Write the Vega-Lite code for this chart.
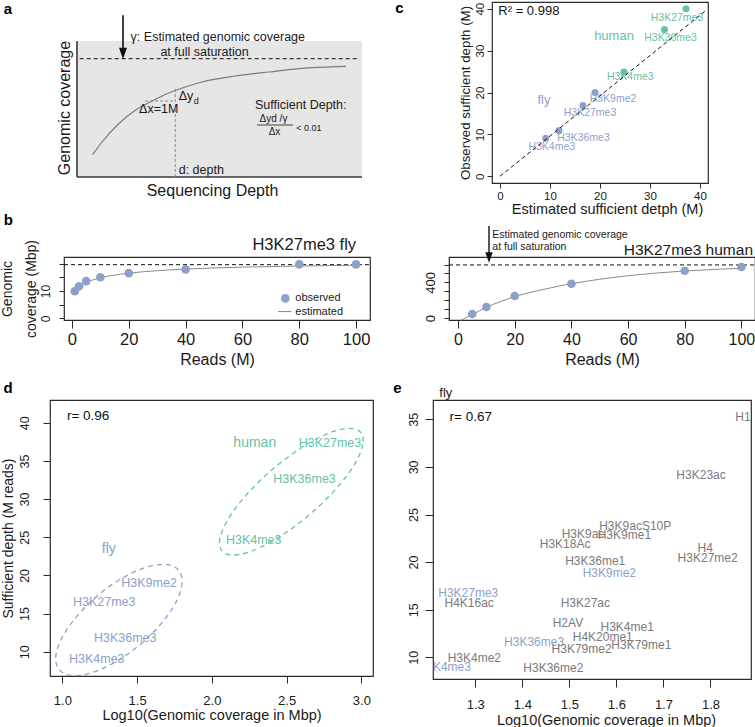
{
"$schema": "https://vega.github.io/schema/vega-lite/v6.json",
"padding": {"left": -1, "top": 0, "right": 0, "bottom": 0},
"background": "white",
"spacing": -5,
"config": {
  "font": "Liberation Sans",
  "view": {"stroke": "#2b2b2b", "strokeWidth": 1.2},
  "axis": {"grid": false, "domain": false, "tickColor": "#2b2b2b", "tickWidth": 1, "labelColor": "#1a1a1a", "titleColor": "#1a1a1a", "titleFontWeight": "normal", "labelFlush": false, "labelOverlap": false, "labelFont": "Liberation Sans", "titleFont": "Liberation Sans"},
  "title": {"font": "Liberation Sans", "fontWeight": "normal", "color": "#1a1a1a"},
  "text": {"font": "Liberation Sans"}
},
"vconcat": [
 {
  "hconcat": [
   {"width": 73, "height": 1, "view": {"stroke": null}, "data": {"values": []}, "mark": {"type": "point"}, "encoding": {}},
   {
    "hconcat": [
     {
      "width": 285, "height": 175,
      "view": {"stroke": null},
      "encoding": {
        "x": {"field": "x", "type": "quantitative", "scale": {"domain": [0, 10], "nice": false, "zero": false}, "axis": {"title": "Sequencing Depth", "labels": false, "ticks": false, "domain": false, "titleFontSize": 16, "titlePadding": 5, "titleX": 135}},
        "y": {"field": "y", "type": "quantitative", "scale": {"domain": [0, 12.5], "nice": false, "zero": false}, "axis": {"title": "Genomic coverage", "labels": false, "ticks": false, "domain": false, "titleFontSize": 16, "titlePadding": 5, "titleY": 105.5}}
      },
      "layer": [
        {"data": {"values": [{"x": 0, "x2": 10, "y": 0, "y2": 9.714}]}, "mark": {"type": "rect", "color": "#e6e6e6"}, "encoding": {"x2": {"field": "x2"}, "y2": {"field": "y2"}}},
        {"data": {"values": [{"x": 0, "x2": 0, "y": 0, "y2": 9.714}, {"x": 0, "x2": 10, "y": 0, "y2": 0}]}, "mark": {"type": "rule", "color": "#3a3a3a", "strokeWidth": 1.6}, "encoding": {"x2": {"field": "x2"}, "y2": {"field": "y2"}}},
        {"data": {"values": [{"x": 0.095, "x2": 9.82, "y": 8.45, "y2": 8.45}]}, "mark": {"type": "rule", "color": "#111111", "strokeWidth": 1, "strokeDash": [4, 3]}, "encoding": {"x2": {"field": "x2"}, "y2": {"field": "y2"}}},
        {"data": {"values": [{"x": 2.386, "x2": 3.449, "y": 5.43, "y2": 5.43}, {"x": 3.449, "x2": 3.449, "y": 0, "y2": 6.3}]}, "mark": {"type": "rule", "color": "#8a8a8a", "strokeWidth": 1, "strokeDash": [3, 2]}, "encoding": {"x2": {"field": "x2"}, "y2": {"field": "y2"}}},
        {"data": {"values": [{"x": 0.551, "y": 1.593}, {"x": 0.877, "y": 2.5}, {"x": 1.463, "y": 3.807}, {"x": 2.046, "y": 4.764}, {"x": 2.632, "y": 5.429}, {"x": 3.218, "y": 6.0}, {"x": 3.8, "y": 6.429}, {"x": 4.386, "y": 6.786}, {"x": 5.554, "y": 7.214}, {"x": 6.726, "y": 7.5}, {"x": 8.246, "y": 7.807}, {"x": 9.439, "y": 7.907}]}, "mark": {"type": "line", "color": "#7a7a7a", "strokeWidth": 1.2, "interpolate": "monotone"}},
        {"data": {"values": [{"x": 1.614, "x2": 1.614, "y": 11.55, "y2": 8.9}]}, "mark": {"type": "rule", "color": "#111111", "strokeWidth": 1.6}, "encoding": {"x2": {"field": "x2"}, "y2": {"field": "y2"}}},
        {"data": {"values": [{"x": 1.614, "y": 8.83}]}, "mark": {"type": "point", "shape": "M-1,-1.4L1,-1.4L0,1.4Z", "filled": true, "size": 64, "color": "#111111", "opacity": 1}},
        {"data": {"values": [{"x": 4.94, "y": 10.0, "label": "γ: Estimated genomic coverage"}, {"x": 4.474, "y": 8.93, "label": "at full saturation"}, {"x": 2.867, "y": 4.88, "label": "Δx=1M"}]}, "mark": {"type": "text", "fontSize": 12.5, "color": "#1a1a1a"}, "encoding": {"text": {"field": "label"}}},
        {"data": {"values": [{"x": 3.568, "y": 5.79, "label": "Δy"}, {"x": 3.568, "y": 0.5, "label": "d: depth"}, {"x": 6.246, "y": 5.14, "label": "Sufficient Depth:"}]}, "mark": {"type": "text", "fontSize": 12.5, "align": "left", "color": "#1a1a1a"}, "encoding": {"text": {"field": "label"}}},
        {"data": {"values": [{"x": 4.095, "y": 5.43, "label": "d"}]}, "mark": {"type": "text", "fontSize": 9, "align": "left", "color": "#1a1a1a"}, "encoding": {"text": {"field": "label"}}},
        {"data": {"values": [{"x": 6.895, "y": 4.143, "label": "Δyd /γ"}, {"x": 6.93, "y": 3.214, "label": "Δx"}]}, "mark": {"type": "text", "fontSize": 10, "color": "#1a1a1a"}, "encoding": {"text": {"field": "label"}}},
        {"data": {"values": [{"x": 6.316, "x2": 7.579, "y": 3.714, "y2": 3.714}]}, "mark": {"type": "rule", "color": "#1a1a1a", "strokeWidth": 0.8}, "encoding": {"x2": {"field": "x2"}, "y2": {"field": "y2"}}},
        {"data": {"values": [{"x": 7.695, "y": 3.5, "label": "< 0.01"}]}, "mark": {"type": "text", "fontSize": 9, "align": "left", "color": "#1a1a1a"}, "encoding": {"text": {"field": "label"}}},
        {"data": {"values": [{"x": -2.572, "y": 11.66, "label": "a"}]}, "mark": {"type": "text", "fontSize": 15, "fontWeight": "bold", "align": "left", "baseline": "alphabetic", "color": "#000000"}, "encoding": {"text": {"field": "label"}}}
      ]
     },
     {
      "width": 216, "height": 181,
      "encoding": {
        "x": {"field": "x", "type": "quantitative", "scale": {"domain": [-1.6, 41.6], "nice": false, "zero": false}, "axis": {"title": "Estimated sufficient detph (M)", "values": [0, 10, 20, 30, 40], "labelFontSize": 11.5, "titleFontSize": 14.5, "tickSize": 5, "labelPadding": 2, "titlePadding": 1, "titleX": 115}},
        "y": {"field": "y", "type": "quantitative", "scale": {"domain": [-1.6, 41.6], "nice": false, "zero": false}, "axis": {"title": "Observed sufficient depth (M)", "values": [0, 10, 20, 30, 40], "labelFontSize": 11.5, "labelAngle": -90, "labelAlign": "center", "labelBaseline": "bottom", "tickSize": 5, "labelPadding": 1.5, "titleFontSize": 13.3, "titlePadding": 2}}
      },
      "layer": [
        {"data": {"values": [
          {"mark": "H3K27me3", "group": "human", "x": 37.2, "y": 40.0},
          {"mark": "H3K36me3", "group": "human", "x": 32.9, "y": 35.0},
          {"mark": "H3K4me3", "group": "human", "x": 24.8, "y": 24.9},
          {"mark": "H3K9me2", "group": "fly", "x": 19.0, "y": 20.0},
          {"mark": "H3K27me3", "group": "fly", "x": 16.6, "y": 16.9},
          {"mark": "H3K36me3", "group": "fly", "x": 11.8, "y": 10.9},
          {"mark": "H3K4me3", "group": "fly", "x": 9.15, "y": 9.1}]},
         "mark": {"type": "circle", "size": 50, "opacity": 1},
         "encoding": {"color": {"field": "group", "type": "nominal", "scale": {"domain": ["human", "fly", "other"], "range": ["#66c2a5", "#8da0cb", "#7a7a7a"]}, "legend": null}}},
        {"data": {"values": [
          {"label": "H3K27me3", "group": "human", "x": 35.4, "y": 37.8},
          {"label": "H3K36me3", "group": "human", "x": 34.1, "y": 33.0},
          {"label": "H3K4me3", "group": "human", "x": 26.05, "y": 23.6},
          {"label": "H3K9me2", "group": "fly", "x": 22.6, "y": 18.4},
          {"label": "H3K27me3", "group": "fly", "x": 18.0, "y": 15.2},
          {"label": "H3K36me3", "group": "fly", "x": 16.7, "y": 9.25},
          {"label": "H3K4me3", "group": "fly", "x": 10.35, "y": 6.9}]},
         "mark": {"type": "text", "fontSize": 10.5},
         "encoding": {"text": {"field": "label"}, "color": {"field": "group", "type": "nominal", "scale": {"domain": ["human", "fly", "other"], "range": ["#66c2a5", "#8da0cb", "#7a7a7a"]}, "legend": null}}},
        {"data": {"values": [{"label": "human", "group": "human", "x": 22.8, "y": 33.5}, {"label": "fly", "group": "fly", "x": 8.8, "y": 18.1}]},
         "mark": {"type": "text", "fontSize": 13},
         "encoding": {"text": {"field": "label"}, "color": {"field": "group", "type": "nominal", "scale": {"domain": ["human", "fly", "other"], "range": ["#66c2a5", "#8da0cb", "#7a7a7a"]}, "legend": null}}},
        {"data": {"values": [{"x": 0, "y": 0}, {"x": 41.2, "y": 39.6}]}, "mark": {"type": "line", "color": "#111111", "strokeWidth": 1, "strokeDash": [4, 3]}},
        {"data": {"values": [{"x": -0.34, "y": 39.5, "label": "R² = 0.998"}]}, "mark": {"type": "text", "fontSize": 13, "align": "left", "color": "#111111"}, "encoding": {"text": {"field": "label"}}},
        {"data": {"values": [{"x": -20.94, "y": 38.96, "label": "c"}]}, "mark": {"type": "text", "fontSize": 15, "fontWeight": "bold", "align": "left", "baseline": "alphabetic", "color": "#000000"}, "encoding": {"text": {"field": "label"}}}
      ]
     }
    ],
    "spacing": 130,
    "bounds": "flush"
   }
  ],
  "spacing": 0,
  "bounds": "flush"
 },
 {
  "vconcat": [
   {
    "hconcat": [
     {"width": 60, "height": 1, "view": {"stroke": null}, "data": {"values": []}, "mark": {"type": "point"}, "encoding": {}},
     {
      "hconcat": [
       {
        "width": 306, "height": 63,
        "encoding": {
          "x": {"field": "x", "type": "quantitative", "scale": {"domain": [-2.8, 104.9], "nice": false, "zero": false}, "axis": {"title": "Reads (M)", "values": [0, 20, 40, 60, 80, 100], "labelFontSize": 16.5, "titleFontSize": 16, "tickSize": 8, "labelPadding": 3, "titlePadding": 4}},
          "y": {"field": "y", "type": "quantitative", "scale": {"domain": [-0.6, 22.4], "nice": false, "zero": false}, "axis": {"title": ["Genomic", "coverage (Mbp)"], "values": [0, 5, 10, 15, 20], "labelExpr": "datum.value == 0 || datum.value == 10 ? datum.label : ''", "labelAngle": -90, "labelAlign": "center", "labelBaseline": "bottom", "labelFontSize": 12, "tickSize": 5, "labelPadding": 7, "titleFontSize": 14, "titleLineHeight": 24, "titlePadding": 1}}
        },
        "layer": [
          {"data": {"values": [{"x": -2.8, "x2": 104.9, "y": 19.6, "y2": 19.6}]}, "mark": {"type": "rule", "color": "#111111", "strokeWidth": 1, "strokeDash": [4, 3]}, "encoding": {"x2": {"field": "x2"}, "y2": {"field": "y2"}}},
          {"data": {"values": [{"x": 1, "y": 10.3}, {"x": 2, "y": 11.2}, {"x": 3, "y": 11.9}, {"x": 5, "y": 13.1}, {"x": 7, "y": 13.9}, {"x": 10, "y": 14.8}, {"x": 15, "y": 15.8}, {"x": 20, "y": 16.5}, {"x": 30, "y": 17.4}, {"x": 40, "y": 18.0}, {"x": 50, "y": 18.4}, {"x": 60, "y": 18.7}, {"x": 80, "y": 19.1}, {"x": 100, "y": 19.4}]}, "mark": {"type": "line", "color": "#8a8a8a", "strokeWidth": 1, "interpolate": "monotone"}},
          {"data": {"values": [{"x": 1, "y": 9.9}, {"x": 2.5, "y": 11.7}, {"x": 5, "y": 13.6}, {"x": 10, "y": 15.0}, {"x": 20, "y": 16.5}, {"x": 40, "y": 17.9}, {"x": 80, "y": 19.7}, {"x": 100, "y": 19.7}]}, "mark": {"type": "circle", "size": 75, "opacity": 1, "color": "#8da0cb"}},
          {"data": {"values": [{"x": 75.09, "y": 7.29}]}, "mark": {"type": "circle", "size": 75, "opacity": 1, "color": "#8da0cb"}},
          {"data": {"values": [{"x": 72.52, "x2": 77.21, "y": 2.49, "y2": 2.49}]}, "mark": {"type": "rule", "color": "#8a8a8a", "strokeWidth": 1}, "encoding": {"x2": {"field": "x2"}, "y2": {"field": "y2"}}},
          {"data": {"values": [{"x": 78.61, "y": 7.51, "label": "observed"}, {"x": 78.61, "y": 2.49, "label": "estimated"}]}, "mark": {"type": "text", "fontSize": 11, "align": "left", "color": "#1a1a1a"}, "encoding": {"text": {"field": "label"}}},
          {"data": {"values": [{"x": 100, "y": 24.85, "label": "H3K27me3 fly"}]}, "mark": {"type": "text", "fontSize": 16.5, "align": "right", "baseline": "alphabetic", "color": "#1a1a1a"}, "encoding": {"text": {"field": "label"}}},
          {"data": {"values": [{"x": -24.02, "y": 33.95, "label": "b"}]}, "mark": {"type": "text", "fontSize": 15, "fontWeight": "bold", "align": "left", "baseline": "alphabetic", "color": "#000000"}, "encoding": {"text": {"field": "label"}}}
        ]
       },
       {
        "width": 306, "height": 63,
        "encoding": {
          "x": {"field": "x", "type": "quantitative", "scale": {"domain": [-3.2, 104.8], "nice": false, "zero": false}, "axis": {"title": "Reads (M)", "values": [0, 20, 40, 60, 80, 100], "labelFontSize": 16, "titleFontSize": 16, "tickSize": 8, "labelPadding": 3, "titlePadding": 4}},
          "y": {"field": "y", "type": "quantitative", "scale": {"domain": [-22, 685], "nice": false, "zero": false}, "axis": {"title": null, "values": [0, 100, 200, 300, 400, 500, 600], "labelExpr": "datum.value == 0 || datum.value == 400 ? datum.label : ''", "labelAngle": -90, "labelAlign": "center", "labelBaseline": "bottom", "labelFontSize": 13, "tickSize": 5, "labelPadding": 7}}
        },
        "layer": [
          {"data": {"values": [{"x": -3.2, "x2": 104.8, "y": 596, "y2": 596}]}, "mark": {"type": "rule", "color": "#111111", "strokeWidth": 1, "strokeDash": [4, 3]}, "encoding": {"x2": {"field": "x2"}, "y2": {"field": "y2"}}},
          {"data": {"values": [{"x": 1, "y": -25}, {"x": 5, "y": 40}, {"x": 10, "y": 120}, {"x": 15, "y": 185}, {"x": 20, "y": 240}, {"x": 30, "y": 320}, {"x": 40, "y": 385}, {"x": 50, "y": 435}, {"x": 60, "y": 475}, {"x": 70, "y": 505}, {"x": 80, "y": 528}, {"x": 90, "y": 545}, {"x": 100, "y": 558}]}, "mark": {"type": "line", "color": "#8a8a8a", "strokeWidth": 1, "interpolate": "monotone"}},
          {"data": {"values": [{"x": 5, "y": 45}, {"x": 10, "y": 124}, {"x": 20, "y": 247}, {"x": 40, "y": 385}, {"x": 80, "y": 531}, {"x": 100, "y": 573}]}, "mark": {"type": "circle", "size": 75, "opacity": 1, "color": "#8da0cb"}},
          {"data": {"values": [{"x": 10.92, "x2": 10.92, "y": 1033, "y2": 665}]}, "mark": {"type": "rule", "color": "#111111", "strokeWidth": 1.4}, "encoding": {"x2": {"field": "x2"}, "y2": {"field": "y2"}}},
          {"data": {"values": [{"x": 10.92, "y": 680.6}]}, "mark": {"type": "point", "shape": "M-1,-1.4L1,-1.4L0,1.4Z", "filled": true, "size": 56, "color": "#111111", "opacity": 1}},
          {"data": {"values": [{"x": 12.08, "y": 932, "label": "Estimated genomic coverage"}, {"x": 12.08, "y": 797, "label": "at full saturation"}]}, "mark": {"type": "text", "fontSize": 10.5, "align": "left", "color": "#1a1a1a"}, "encoding": {"text": {"field": "label"}}},
          {"data": {"values": [{"x": 104.1, "y": 702, "label": "H3K27me3 human"}]}, "mark": {"type": "text", "fontSize": 15.5, "align": "right", "baseline": "alphabetic", "color": "#1a1a1a"}, "encoding": {"text": {"field": "label"}}}
        ]
       }
      ],
      "spacing": 79,
      "bounds": "flush"
     }
    ],
    "spacing": 0,
    "bounds": "flush"
   },
   {
    "hconcat": [
     {"width": 46, "height": 1, "view": {"stroke": null}, "data": {"values": []}, "mark": {"type": "point"}, "encoding": {}},
     {
      "hconcat": [
       {
        "width": 323, "height": 276,
        "encoding": {
          "x": {"field": "x", "type": "quantitative", "scale": {"domain": [0.917, 3.078], "nice": false, "zero": false}, "axis": {"title": "Log10(Genomic coverage in Mbp)", "values": [1, 1.5, 2, 2.5, 3], "format": ".1f", "labelFontSize": 13, "titleFontSize": 14.5, "tickSize": 7, "labelPadding": 11, "titlePadding": 1}},
          "y": {"field": "y", "type": "quantitative", "scale": {"domain": [6.815, 42.99], "nice": false, "zero": false}, "axis": {"title": "Sufficient depth (M reads)", "values": [10, 15, 20, 25, 30, 35, 40], "labelAngle": -90, "labelAlign": "center", "labelBaseline": "bottom", "labelFontSize": 12.5, "tickSize": 7, "labelPadding": 12, "titleFontSize": 14, "titlePadding": 3}}
        },
        "layer": [
          {"data": {"values": [
            {"group": "human", "i": 0, "x": 2.998, "y": 38.70}, {"group": "human", "i": 1, "x": 3.010, "y": 37.18}, {"group": "human", "i": 2, "x": 2.965, "y": 34.92}, {"group": "human", "i": 3, "x": 2.867, "y": 32.17}, {"group": "human", "i": 4, "x": 2.729, "y": 29.30}, {"group": "human", "i": 5, "x": 2.567, "y": 26.61}, {"group": "human", "i": 6, "x": 2.401, "y": 24.46}, {"group": "human", "i": 7, "x": 2.251, "y": 23.08}, {"group": "human", "i": 8, "x": 2.134, "y": 22.67}, {"group": "human", "i": 9, "x": 2.066, "y": 23.25}, {"group": "human", "i": 10, "x": 2.053, "y": 24.76}, {"group": "human", "i": 11, "x": 2.099, "y": 27.03}, {"group": "human", "i": 12, "x": 2.196, "y": 29.76}, {"group": "human", "i": 13, "x": 2.334, "y": 32.65}, {"group": "human", "i": 14, "x": 2.497, "y": 35.33}, {"group": "human", "i": 15, "x": 2.663, "y": 37.49}, {"group": "human", "i": 16, "x": 2.813, "y": 38.87}, {"group": "human", "i": 17, "x": 2.929, "y": 39.28},
            {"group": "fly", "i": 0, "x": 1.780, "y": 20.62}, {"group": "fly", "i": 1, "x": 1.801, "y": 19.07}, {"group": "fly", "i": 2, "x": 1.771, "y": 16.93}, {"group": "fly", "i": 3, "x": 1.693, "y": 14.46}, {"group": "fly", "i": 4, "x": 1.577, "y": 11.95}, {"group": "fly", "i": 5, "x": 1.438, "y": 9.70}, {"group": "fly", "i": 6, "x": 1.291, "y": 8.00}, {"group": "fly", "i": 7, "x": 1.155, "y": 7.03}, {"group": "fly", "i": 8, "x": 1.045, "y": 6.93}, {"group": "fly", "i": 9, "x": 0.976, "y": 7.70}, {"group": "fly", "i": 10, "x": 0.955, "y": 9.23}, {"group": "fly", "i": 11, "x": 0.986, "y": 11.38}, {"group": "fly", "i": 12, "x": 1.064, "y": 13.85}, {"group": "fly", "i": 13, "x": 1.179, "y": 16.36}, {"group": "fly", "i": 14, "x": 1.319, "y": 18.62}, {"group": "fly", "i": 15, "x": 1.466, "y": 20.32}, {"group": "fly", "i": 16, "x": 1.602, "y": 21.28}, {"group": "fly", "i": 17, "x": 1.712, "y": 21.39}]},
           "mark": {"type": "line", "interpolate": "cardinal-closed", "strokeWidth": 1.3, "strokeDash": [5, 4]},
           "encoding": {"order": {"field": "i", "type": "quantitative"}, "color": {"field": "group", "type": "nominal", "scale": {"domain": ["human", "fly", "other"], "range": ["#66c2a5", "#8da0cb", "#7a7a7a"]}, "legend": null}}},
          {"data": {"values": [
            {"label": "H3K27me3", "group": "human", "x": 2.79, "y": 37.3},
            {"label": "H3K36me3", "group": "human", "x": 2.62, "y": 32.7},
            {"label": "H3K4me3", "group": "human", "x": 2.28, "y": 24.7},
            {"label": "H3K9me2", "group": "fly", "x": 1.58, "y": 19.0},
            {"label": "H3K27me3", "group": "fly", "x": 1.28, "y": 16.55},
            {"label": "H3K36me3", "group": "fly", "x": 1.42, "y": 11.75},
            {"label": "H3K4me3", "group": "fly", "x": 1.23, "y": 9.0}]},
           "mark": {"type": "text", "fontSize": 12.5},
           "encoding": {"text": {"field": "label"}, "color": {"field": "group", "type": "nominal", "scale": {"domain": ["human", "fly", "other"], "range": ["#66c2a5", "#8da0cb", "#7a7a7a"]}, "legend": null}}},
          {"data": {"values": [{"label": "human", "group": "human", "x": 2.287, "y": 37.3}, {"label": "fly", "group": "fly", "x": 1.31, "y": 23.5}]},
           "mark": {"type": "text", "fontSize": 14},
           "encoding": {"text": {"field": "label"}, "color": {"field": "group", "type": "nominal", "scale": {"domain": ["human", "fly", "other"], "range": ["#66c2a5", "#8da0cb", "#7a7a7a"]}, "legend": null}}},
          {"data": {"values": [{"x": 1.03, "y": 40.9, "label": "r= 0.96"}]}, "mark": {"type": "text", "fontSize": 13.5, "align": "left", "color": "#111111"}, "encoding": {"text": {"field": "label"}}},
          {"data": {"values": [{"x": 0.606, "y": 43.9, "label": "d"}]}, "mark": {"type": "text", "fontSize": 15, "fontWeight": "bold", "align": "left", "baseline": "alphabetic", "color": "#000000"}, "encoding": {"text": {"field": "label"}}}
        ]
       },
       {
        "width": 318, "height": 279,
        "encoding": {
          "x": {"field": "x", "type": "quantitative", "scale": {"domain": [1.2101, 1.8862], "nice": false, "zero": false}, "axis": {"title": "Log10(Genomic coverage in Mbp)", "values": [1.3, 1.4, 1.5, 1.6, 1.7, 1.8], "format": ".1f", "labelFontSize": 13, "titleFontSize": 14.5, "tickSize": 8, "labelPadding": 11, "titlePadding": 2, "titleX": 173}},
          "y": {"field": "y", "type": "quantitative", "scale": {"domain": [7.72, 37.03], "nice": false, "zero": false}, "axis": {"title": null, "values": [10, 15, 20, 25, 30, 35], "labelAngle": -90, "labelAlign": "center", "labelBaseline": "bottom", "labelFontSize": 12.5, "tickSize": 8, "labelPadding": 5}}
        },
        "layer": [
          {"data": {"values": [
            {"label": "H1", "group": "other", "x": 1.869, "y": 35.2},
            {"label": "H3K23ac", "group": "other", "x": 1.780, "y": 29.15},
            {"label": "H3K9acS10P", "group": "other", "x": 1.640, "y": 23.79},
            {"label": "H3K9ac", "group": "other", "x": 1.529, "y": 22.95},
            {"label": "H3K9me1", "group": "other", "x": 1.617, "y": 22.85},
            {"label": "H3K18Ac", "group": "other", "x": 1.491, "y": 21.87},
            {"label": "H4", "group": "other", "x": 1.789, "y": 21.45},
            {"label": "H3K27me2", "group": "other", "x": 1.794, "y": 20.47},
            {"label": "H3K36me1", "group": "other", "x": 1.555, "y": 20.15},
            {"label": "H3K9me2", "group": "fly", "x": 1.585, "y": 18.82},
            {"label": "H3K27me3", "group": "fly", "x": 1.285, "y": 16.79},
            {"label": "H4K16ac", "group": "other", "x": 1.287, "y": 15.74},
            {"label": "H3K27ac", "group": "other", "x": 1.534, "y": 15.74},
            {"label": "H2AV", "group": "other", "x": 1.497, "y": 13.57},
            {"label": "H3K4me1", "group": "other", "x": 1.623, "y": 13.15},
            {"label": "H4K20me1", "group": "other", "x": 1.571, "y": 12.10},
            {"label": "H3K36me3", "group": "fly", "x": 1.425, "y": 11.64},
            {"label": "H3K79me1", "group": "other", "x": 1.653, "y": 11.29},
            {"label": "H3K79me2", "group": "other", "x": 1.526, "y": 10.84},
            {"label": "H3K4me2", "group": "other", "x": 1.298, "y": 9.89},
            {"label": "H3K4me3", "group": "fly", "x": 1.234, "y": 9.02},
            {"label": "H3K36me2", "group": "other", "x": 1.466, "y": 8.84}]},
           "mark": {"type": "text", "fontSize": 12, "clip": true},
           "encoding": {"text": {"field": "label"}, "color": {"field": "group", "type": "nominal", "scale": {"domain": ["human", "fly", "other"], "range": ["#66c2a5", "#8da0cb", "#7a7a7a"]}, "legend": null}}},
          {"data": {"values": [{"x": 1.2454, "y": 35.28, "label": "r= 0.67"}]}, "mark": {"type": "text", "fontSize": 13.5, "align": "left", "color": "#111111"}, "encoding": {"text": {"field": "label"}}},
          {"data": {"values": [{"x": 1.2235, "y": 37.34, "label": "fly"}]}, "mark": {"type": "text", "fontSize": 13, "align": "left", "baseline": "alphabetic", "color": "#1a1a1a"}, "encoding": {"text": {"field": "label"}}},
          {"data": {"values": [{"x": 1.1258, "y": 37.76, "label": "e"}]}, "mark": {"type": "text", "fontSize": 15, "fontWeight": "bold", "align": "left", "baseline": "alphabetic", "color": "#000000"}, "encoding": {"text": {"field": "label"}}}
        ]
       }
      ],
      "spacing": 60,
      "bounds": "flush"
     }
    ],
    "spacing": 0,
    "bounds": "flush"
   }
  ],
  "spacing": 11
 }
]
}
